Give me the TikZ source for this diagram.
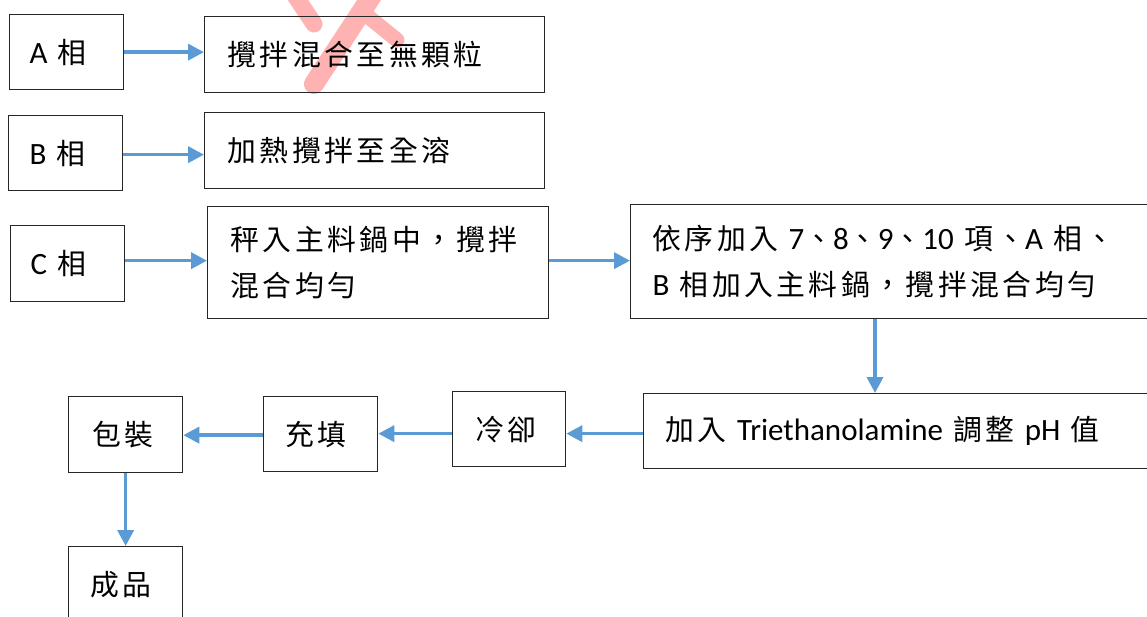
\documentclass[tikz,border=0pt]{standalone}
\usepackage{fontspec}
\setmainfont{Carlito}
\newfontfamily\cjk[LetterSpace=12,Scale=0.93]{Noto Sans CJK TC}
\usetikzlibrary{arrows.meta}
\definecolor{arrowblue}{HTML}{5B9BD5}
\definecolor{boxline}{HTML}{262626}
\definecolor{markpink}{RGB}{255,178,178}
\tikzset{
  box/.style={draw=boxline, line width=1.3pt, rectangle, anchor=north west,
    inner xsep=21pt, inner ysep=0pt, align=left,
    font=\fontsize{31pt}{46pt}\selectfont},
  arr/.style={draw=arrowblue, line width=3.6pt,
    -{Triangle[length=16pt,width=16pt]}},
  mark/.style={draw=markpink, line width=#1, line cap=round}
}
\begin{document}
\begin{tikzpicture}[x=1pt,y=-1pt]
\clip (0,0) rectangle (1147,617);
\fill[white] (0,0) rectangle (1147,617);

% red watermark fragment (behind the text)
\draw[mark=17pt] (294,-6) -- (314,24);
\draw[mark=20pt] (373,-6) -- (314,84);
\draw[mark=15pt] (360,10) -- (397,40);

% first column
\node[box, minimum width=114pt, minimum height=75pt, text width=74pt, inner xsep=20pt] (pA) at (9,14) {A {\cjk 相}};
\node[box, minimum width=114pt, minimum height=75pt, text width=72pt] (pB) at (8,115) {B {\cjk 相}};
\node[box, minimum width=114pt, minimum height=76pt, text width=74pt, inner xsep=20pt] (pC) at (10,225) {C {\cjk 相}};

% second column
\node[box, minimum width=340pt, minimum height=76pt, text width=294pt, inner xsep=23pt] (sA) at (204,16) {{\cjk 攪拌混合至無顆粒}};
\node[box, minimum width=340pt, minimum height=76pt, text width=294pt, inner xsep=23pt] (sB) at (204,112) {{\cjk 加熱攪拌至全溶}};
\node[box, minimum width=341pt, minimum height=112pt, text width=295pt, inner xsep=23pt] (s1) at (207,206) {{\cjk 秤入主料鍋中，攪拌}\\{\cjk 混合均勻}};
\node[box, minimum width=530pt, minimum height=114pt, text width=486pt, inner xsep=22pt] (s2) at (630,204) {{\cjk 依序加入} 7{\cjk 、}8{\cjk 、}9{\cjk 、}10 {\cjk 項、}A {\cjk 相、}\\B {\cjk 相加入主料鍋，攪拌混合均勻}};

% bottom row
\node[box, minimum width=520pt, minimum height=75pt, text width=476pt, inner xsep=22pt] (s3) at (643,393) {{\cjk 加入} Triethanolamine {\cjk 調整} pH {\cjk 值}};
\node[box, minimum width=113pt, minimum height=75pt, text width=67pt, inner xsep=23pt] (cool) at (452,391) {{\cjk 冷卻}};
\node[box, minimum width=114pt, minimum height=75pt, text width=70pt, inner xsep=22pt] (fill) at (263,396) {{\cjk 充填}};
\node[box, minimum width=114pt, minimum height=76pt, text width=66pt, inner xsep=24pt] (pack) at (68,396) {{\cjk 包裝}};
\node[box, minimum width=114pt, minimum height=76pt, text width=70pt, inner xsep=22pt] (prod) at (68,546) {{\cjk 成品}};

% connectors
\draw[arr] (pA.east) -- (pA.east -| sA.west);
\draw[arr] ([yshift=-1.5pt]pB.east) -- ([yshift=-1.5pt]pB.east -| sB.west);
\draw[arr] ([yshift=3pt]pC.east) -- ([yshift=3pt]pC.east -| s1.west);
\draw[arr] ([yshift=2pt]s1.east) -- ([yshift=2pt]s1.east -| s2.west);
\draw[arr] ([xshift=245pt]s2.south west) -- ([xshift=232pt]s3.north west);
\draw[arr] ([yshift=-2.5pt]s3.west) -- ([yshift=-2.5pt]s3.west -| cool.east);
\draw[arr] ([yshift=-4.5pt]cool.west) -- ([yshift=-4.5pt]cool.west -| fill.east);
\draw[arr] ([yshift=-1pt]fill.west) -- ([yshift=-1pt]fill.west -| pack.east);
\draw[arr] (pack.south) -- (prod.north);
\end{tikzpicture}
\end{document}
